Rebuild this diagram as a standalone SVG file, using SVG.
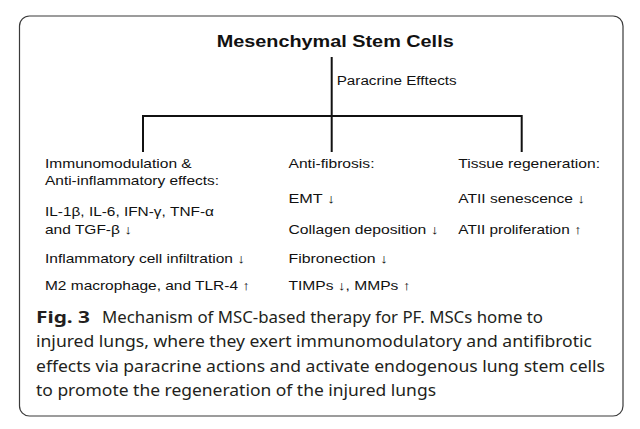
<svg xmlns="http://www.w3.org/2000/svg" width="640" height="429" viewBox="0 0 640 429">
<style>
.frame{fill:#fff;stroke:#3a3a3a;stroke-width:1.2}
.conn{fill:none;stroke:#111;stroke-width:2}
.t{font-family:"Liberation Sans",Arial,sans-serif;font-size:13px;fill:#111}
.title{font-family:"Liberation Sans",Arial,sans-serif;font-size:17px;font-weight:bold;fill:#111}
.lbl{font-family:"Liberation Sans",Arial,sans-serif;font-size:12.5px;fill:#111}
.cap{font-family:"Noto Sans","Open Sans",sans-serif;font-size:15.5px;fill:#231f20}
.capb{font-family:"Noto Sans","Open Sans",sans-serif;font-size:15.5px;font-weight:bold;fill:#231f20}
</style>
<rect width="640" height="429" fill="#fff"/>
<rect class="frame" x="19.5" y="16" width="603.5" height="400" rx="10" ry="10"/>
<g id="connectors">
<path class="conn" d="M331.7,57 V152"/>
<path class="conn" d="M143,152 V116 H521.7 V152"/>
<text class="lbl" x="336.7" y="85" textLength="120" lengthAdjust="spacingAndGlyphs">Paracrine Efftects</text>
</g>
<g id="msc">
<text class="title" x="216.7" y="46.5" textLength="237" lengthAdjust="spacingAndGlyphs">Mesenchymal Stem Cells</text>
</g>
<g id="immunomodulation">
<text class="t" x="45" y="168" textLength="146.7" lengthAdjust="spacingAndGlyphs">Immunomodulation &amp;</text>
<text class="t" x="45" y="185" textLength="174" lengthAdjust="spacingAndGlyphs">Anti-inflammatory effects:</text>
<text class="t" x="45" y="216" textLength="169" lengthAdjust="spacingAndGlyphs">IL-1β, IL-6, IFN-γ, TNF-α</text>
<text class="t" x="45" y="233.5" textLength="87" lengthAdjust="spacingAndGlyphs">and TGF-β ↓</text>
<text class="t" x="45" y="262.5" textLength="200" lengthAdjust="spacingAndGlyphs">Inflammatory cell infiltration ↓</text>
<text class="t" x="45" y="290" textLength="205" lengthAdjust="spacingAndGlyphs">M2 macrophage, and TLR-4 ↑</text>
</g>
<g id="antifibrosis">
<text class="t" x="288.5" y="168" textLength="86" lengthAdjust="spacingAndGlyphs">Anti-fibrosis:</text>
<text class="t" x="288.5" y="203" textLength="46.5" lengthAdjust="spacingAndGlyphs">EMT ↓</text>
<text class="t" x="288.5" y="233.5" textLength="150" lengthAdjust="spacingAndGlyphs">Collagen deposition ↓</text>
<text class="t" x="288.5" y="262.5" textLength="99.5" lengthAdjust="spacingAndGlyphs">Fibronection ↓</text>
<text class="t" x="288.5" y="290" textLength="122" lengthAdjust="spacingAndGlyphs">TIMPs ↓, MMPs ↑</text>
</g>
<g id="regeneration">
<text class="t" x="458.3" y="168" textLength="141.7" lengthAdjust="spacingAndGlyphs">Tissue regeneration:</text>
<text class="t" x="458.3" y="203" textLength="126.7" lengthAdjust="spacingAndGlyphs">ATII senescence ↓</text>
<text class="t" x="458.3" y="233.5" textLength="123.3" lengthAdjust="spacingAndGlyphs">ATII proliferation ↑</text>
</g>
<g id="caption">
<text class="capb" x="36" y="322.5" textLength="54" lengthAdjust="spacingAndGlyphs">Fig. 3</text>
<text class="cap" x="102" y="322.5" textLength="441" lengthAdjust="spacingAndGlyphs">Mechanism of MSC-based therapy for PF. MSCs home to</text>
<text class="cap" x="36" y="347" textLength="556" lengthAdjust="spacingAndGlyphs">injured lungs, where they exert immunomodulatory and antifibrotic</text>
<text class="cap" x="36" y="371.5" textLength="569" lengthAdjust="spacingAndGlyphs">effects via paracrine actions and activate endogenous lung stem cells</text>
<text class="cap" x="36" y="396" textLength="400" lengthAdjust="spacingAndGlyphs">to promote the regeneration of the injured lungs</text>
</g>
</svg>
